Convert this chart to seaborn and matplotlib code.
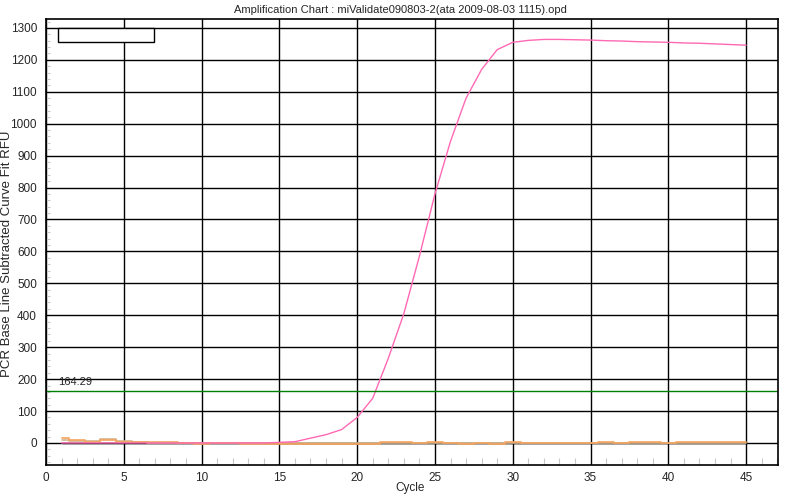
import numpy as np
import pandas as pd
import matplotlib
matplotlib.use("Agg")
import matplotlib.pyplot as plt
from matplotlib.patches import Rectangle
from matplotlib.ticker import MultipleLocator
import seaborn as sns

sns.set_style("white")
plt.rcParams["font.family"] = ["Liberation Sans", "DejaVu Sans"]

# Data
cycles = list(range(1, 46))
sample_rfu = [0, 0, 0, 0, 0, 0, 0, 0, 0, 0, 0, 0, 0, 0, 2,
              4, 15, 26, 42, 80, 140, 265, 405, 585, 780,
              945, 1080, 1170, 1232, 1255, 1261, 1264, 1264, 1263, 1262,
              1260, 1259, 1257, 1256, 1255, 1253, 1252, 1250, 1248, 1246]
orange_rfu = [15, 8, 3, 8, 3, 2, 2, 2, 0, -3, 0, 0, -3, -3, -2,
              -2, -2, -2, -3, -3, -3, 2, 2, 0, 2, 0, -3, 0, -3, 2,
              0, 0, 0, 0, 0, 2, 0, 2, 2, 0, 2, 2, 2, 2, 2]
tan_rfu = [10, 6, 5, 12, 5, 2, 1, 0, 0, 0, 0, 0, 0, 0, 0,
           0, 0, 0, 0, 0, 0, 0, 0, 0, 0, 0, 0, 0, 0, 0,
           0, 0, 0, 0, 0, 0, 0, 0, 0, 0, 0, 0, 0, 0, 0]
black_rfu = [0, 0, 0, 0, 0, 0, 0, 0, 0, 0, 0, 0, 0, 0, 0,
             0, 0, 0, 0, 0, 0, 0, 0, 0, 0, 0, 0, 0, 0, 0,
             0, 0, 0, 0, 0, 0, 0, 0, 0, 0, 0, 0, 0, 0, 0]
threshold = 164.29

df = pd.DataFrame({"Cycle": cycles, "sample": sample_rfu, "orange": orange_rfu,
                   "tan": tan_rfu, "black": black_rfu})

fig = plt.figure(figsize=(8, 5), dpi=100)
ax = fig.add_axes([0.0575, 0.07, 0.915, 0.892])

# grid
ax.set_axisbelow(True)
ax.grid(True, which="major", color="black", linewidth=1.0)

# curves
sns.lineplot(data=df, x="Cycle", y="black", color="black", linewidth=1.0,
             drawstyle="steps-mid", ax=ax)
sns.lineplot(data=df, x="Cycle", y="tan", color="#d2b48c", linewidth=1.2,
             drawstyle="steps-mid", ax=ax)
sns.lineplot(data=df, x="Cycle", y="orange", color="#f4a460", linewidth=1.2,
             drawstyle="steps-mid", ax=ax)
sns.lineplot(data=df, x="Cycle", y="sample", color="#ff69b4", linewidth=1.0, ax=ax)

# threshold
ax.axhline(threshold, color="#008000", linewidth=1.0)
ax.text(0.8, threshold + 10, f"{threshold:.2f}", fontsize=8, va="bottom", ha="left")

# empty legend box
ax.add_patch(Rectangle((0.0164, 0.949), 0.131, 0.031, transform=ax.transAxes,
                       facecolor="white", edgecolor="black", linewidth=1.0, zorder=5))

ax.set_xlim(0, 47.05)
ax.set_ylim(-69, 1328)
ax.xaxis.set_major_locator(MultipleLocator(5))
ax.xaxis.set_minor_locator(MultipleLocator(1))
ax.yaxis.set_major_locator(MultipleLocator(100))
ax.yaxis.set_minor_locator(MultipleLocator(20))
ax.tick_params(axis="x", which="major", labelsize=8.5, length=0, pad=5)
ax.tick_params(axis="y", which="major", labelsize=8.5, length=5, width=0.8,
               direction="out", color="black", pad=1.5)
ax.tick_params(axis="x", which="minor", direction="in", length=5, width=0.8,
               color="#c8c8c8", bottom=True)
ax.tick_params(axis="y", which="minor", direction="in", length=3, width=0.8,
               color="#c8c8c8", left=True)

for s in ax.spines.values():
    s.set_color("black")
    s.set_linewidth(1.2)

ax.set_xlabel("")
ax.set_ylabel("")
fig.text(0.5125, 0.012, "Cycle", ha="center", va="bottom", fontsize=8.5)
fig.text(0.001, 0.493, "PCR Base Line Subtracted Curve Fit RFU", rotation=90,
         ha="left", va="center", fontsize=9.5)
fig.text(0.5, 0.99, "Amplification Chart : miValidate090803-2(ata 2009-08-03 1115).opd",
         ha="center", va="top", fontsize=8)

fig.savefig("out.png", dpi=100)
